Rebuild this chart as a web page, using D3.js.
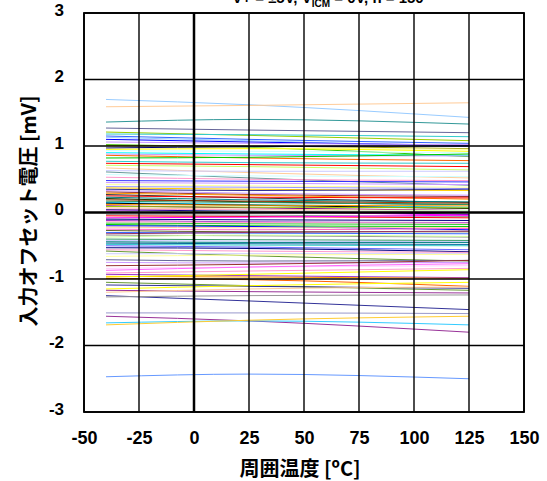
<!DOCTYPE html>
<html>
<head>
<meta charset="utf-8">
<script src="https://cdn.jsdelivr.net/npm/d3@7"></script>
<style>
  body { margin: 0; background: #fff; }
  svg text { font-family: "Liberation Sans", Arial, sans-serif; font-weight: bold; }
</style>
</head>
<body>
<div id="chart"></div>
<script>
// Temperatures at which each unit was read (ºC)
const temps = [-40, 25, 125];

// Offset voltage (mV) per unit at -40 / 25 / 125 ºC
const offsets = [
    [1.70, 1.62, 1.43], [1.59, 1.61, 1.65], [1.36, 1.40, 1.33], [1.27, 1.24, 1.20],
    [1.21, 1.16, 1.08], [1.18, 1.17, 1.14], [1.15, 1.10, 1.04], [1.13, 1.08, 0.99],
    [1.10, 1.06, 1.01], [1.06, 1.04, 1.02], [1.02, 0.98, 0.84], [1.01, 1.00, 0.96],
    [0.99, 0.97, 0.95], [0.97, 0.99, 1.00], [0.95, 0.96, 0.92], [0.93, 0.92, 0.90],
    [0.90, 0.88, 0.86], [0.88, 0.86, 0.85], [0.86, 0.82, 0.78], [0.82, 0.83, 0.88],
    [0.77, 0.75, 0.74], [0.74, 0.72, 0.69], [0.71, 0.69, 0.64], [0.67, 0.60, 0.52],
    [0.63, 0.62, 0.62], [0.61, 0.52, 0.41], [0.57, 0.55, 0.54], [0.53, 0.50, 0.48],
    [0.48, 0.47, 0.46], [0.45, 0.44, 0.42], [0.42, 0.40, 0.38], [0.39, 0.38, 0.36],
    [0.37, 0.35, 0.33], [0.35, 0.33, 0.35], [0.33, 0.29, 0.26], [0.31, 0.27, 0.24],
    [0.29, 0.26, 0.20], [0.27, 0.22, 0.15], [0.25, 0.23, 0.22], [0.23, 0.19, 0.16],
    [0.21, 0.16, 0.12], [0.19, 0.17, 0.14], [0.17, 0.15, 0.12], [0.15, 0.12, 0.08],
    [0.14, 0.11, 0.06], [0.12, 0.11, 0.10], [0.10, 0.07, 0.03], [0.09, 0.08, 0.07],
    [0.07, 0.05, 0.03], [0.05, 0.04, 0.00], [0.04, 0.02, -0.03], [0.02, 0.01, -0.04],
    [0.01, 0.02, 0.03], [-0.03, -0.04, -0.06], [-0.05, -0.06, -0.08], [-0.08, -0.07, -0.04],
    [-0.10, -0.11, -0.12], [-0.12, -0.14, -0.15], [-0.14, -0.15, -0.16], [-0.16, -0.17, -0.18],
    [-0.18, -0.20, -0.21], [-0.20, -0.21, -0.26], [-0.22, -0.23, -0.23], [-0.25, -0.26, -0.24],
    [-0.27, -0.29, -0.29], [-0.30, -0.31, -0.32], [-0.32, -0.30, -0.28], [-0.34, -0.35, -0.37],
    [-0.37, -0.34, -0.36], [-0.40, -0.41, -0.42], [-0.42, -0.43, -0.44], [-0.44, -0.45, -0.45],
    [-0.46, -0.47, -0.48], [-0.48, -0.49, -0.50], [-0.50, -0.52, -0.56], [-0.53, -0.54, -0.59],
    [-0.56, -0.58, -0.60], [-0.58, -0.65, -0.73], [-0.62, -0.62, -0.62], [-0.66, -0.64, -0.63],
    [-0.71, -0.73, -0.72], [-0.75, -0.76, -0.75], [-0.80, -0.78, -0.72], [-0.84, -0.82, -0.80],
    [-0.87, -0.82, -0.77], [-0.91, -0.88, -0.84], [-0.93, -0.95, -0.98], [-0.96, -0.97, -0.99],
    [-0.97, -0.93, -0.86], [-0.99, -1.01, -1.11], [-1.05, -1.10, -1.17], [-1.09, -1.11, -1.14],
    [-1.15, -1.10, -1.05], [-1.17, -1.19, -1.21], [-1.20, -1.15, -1.12], [-1.25, -1.33, -1.46],
    [-1.27, -1.25, -1.24], [-1.51, -1.51, -1.52], [-1.56, -1.63, -1.80], [-1.66, -1.63, -1.69],
    [-1.69, -1.62, -1.56], [-2.47, -2.43, -2.50]
];

const seriesColors = [
    "#99CCFF", "#FFCC99", "#339999", "#666699", "#99CC00", "#33CCCC", "#3366FF", "#99CCFF",
    "#0000FF", "#CC99FF", "#33CC00", "#999900", "#FFFF99", "#000080", "#FFFF00", "#CCFFFF",
    "#00FFFF", "#CC99FF", "#FF6600", "#00CC00", "#33CCCC", "#FF0000", "#CCFF66", "#FFCC99",
    "#CCCCFF", "#669999", "#CCFFFF", "#FF99CC", "#3333FF", "#CC99FF", "#FFFF99", "#9999FF",
    "#FFCC00", "#333399", "#CC99FF", "#993333", "#FF9900", "#333333", "#FF0000", "#008080",
    "#003300", "#993300", "#339966", "#00CCFF", "#000000", "#FF9900", "#800080", "#99CC00",
    "#FFCC99", "#FF99CC", "#000080", "#FF00FF", "#CCFFCC", "#969696", "#FF0000", "#FF00FF",
    "#000080", "#9933CC", "#FF99CC", "#33CC33", "#00CC00", "#0000FF", "#FFCC99", "#FF66CC",
    "#666633", "#3366FF", "#993366", "#969696", "#CCFF99", "#339966", "#CCCCFF", "#008080",
    "#006699", "#33CCCC", "#6666FF", "#000080", "#FF99CC", "#669933", "#CCCCFF", "#FFFF99",
    "#666699", "#CC99FF", "#993333", "#FFCCFF", "#FF66FF", "#FF99CC", "#9933CC", "#FF9900",
    "#FFFF00", "#FF6600", "#669933", "#333399", "#FFFF00", "#993399", "#FFCC99", "#333399",
    "#999999", "#9999CC", "#993399", "#33CCFF", "#FFCC33", "#6699FF"
];

const xTicks = [-50, -25, 0, 25, 50, 75, 100, 125, 150];
const yTicks = [-3, -2, -1, 0, 1, 2, 3];

const width = 547, height = 481;
const svg = d3.select("#chart").append("svg")
    .attr("width", width)
    .attr("height", height);

const x = d3.scaleLinear().domain([-50, 150]).range([84, 524]);
const y = d3.scaleLinear().domain([-3, 3]).range([412, 13]);

// Data lines
const line = d3.line()
    .x(d => x(d.t))
    .y(d => y(d.v))
    .curve(d3.curveMonotoneX);

svg.append("g")
    .selectAll("path")
    .data(offsets)
    .enter().append("path")
    .attr("d", vals => line(vals.map((v, i) => ({ t: temps[i], v: v }))))
    .attr("fill", "none")
    .attr("stroke", (d, i) => seriesColors[i])
    .attr("stroke-width", 1);

// Grid on top, like the reference
const grid = svg.append("g");
grid.selectAll(".vgrid")
    .data(xTicks)
    .enter().append("line")
    .attr("x1", d => x(d)).attr("x2", d => x(d))
    .attr("y1", y(3)).attr("y2", y(-3))
    .attr("stroke", "#000")
    .attr("stroke-width", d => d === 0 ? 2.5 : 1.4);

grid.selectAll(".hgrid")
    .data(yTicks)
    .enter().append("line")
    .attr("x1", x(-50)).attr("x2", x(150))
    .attr("y1", d => y(d)).attr("y2", d => y(d))
    .attr("stroke", "#000")
    .attr("stroke-width", d => d === 0 ? 2.5 : 1.4);

svg.append("rect")
    .attr("x", x(-50)).attr("y", y(3))
    .attr("width", x(150) - x(-50))
    .attr("height", y(-3) - y(3))
    .attr("fill", "none")
    .attr("stroke", "#000")
    .attr("stroke-width", 1.8);

// Axes (labels only)
const xAxis = svg.append("g")
    .attr("transform", `translate(0, ${y(-3)})`)
    .call(d3.axisBottom(x).tickValues(xTicks).tickFormat(d => String(d)).tickSize(0).tickPadding(19));
xAxis.select(".domain").remove();
xAxis.selectAll("text")
    .style("font-size", "18px")
    .style("font-family", '"Liberation Sans", Arial, sans-serif')
    .style("font-weight", "bold")
    .attr("fill", "#000");

const yAxis = svg.append("g")
    .attr("transform", `translate(${x(-50)}, 0)`)
    .call(d3.axisLeft(y).tickValues(yTicks).tickFormat(d => String(d)).tickSize(0).tickPadding(20));
yAxis.select(".domain").remove();
yAxis.selectAll("text")
    .style("font-size", "17px")
    .style("font-family", '"Liberation Sans", Arial, sans-serif')
    .style("font-weight", "bold")
    .attr("y", -3)
    .attr("fill", "#000");

// Axis titles
svg.append("text")
    .attr("x", 300)
    .attr("y", 476)
    .attr("text-anchor", "middle")
    .style("font-size", "20px")
    .style("font-family", '"Noto Sans CJK JP", "Liberation Sans", sans-serif')
    .text("周囲温度 [ºC]");

svg.append("text")
    .attr("transform", `translate(36, 211) rotate(-90)`)
    .attr("text-anchor", "middle")
    .style("font-size", "20px")
    .style("font-family", '"Noto Sans CJK JP", "Liberation Sans", sans-serif')
    .text("入力オフセット電圧 [mV]");

// Clipped subtitle at the top edge
const sub = svg.append("text")
    .attr("x", 328)
    .attr("y", 3)
    .attr("text-anchor", "middle")
    .style("font-size", "15px");
sub.append("tspan").text("V+ = ±5V, V");
sub.append("tspan").attr("dy", 4).style("font-size", "10px").text("ICM");
sub.append("tspan").attr("dy", -4).text(" = 0V, n = 150");
</script>
</body>
</html>
